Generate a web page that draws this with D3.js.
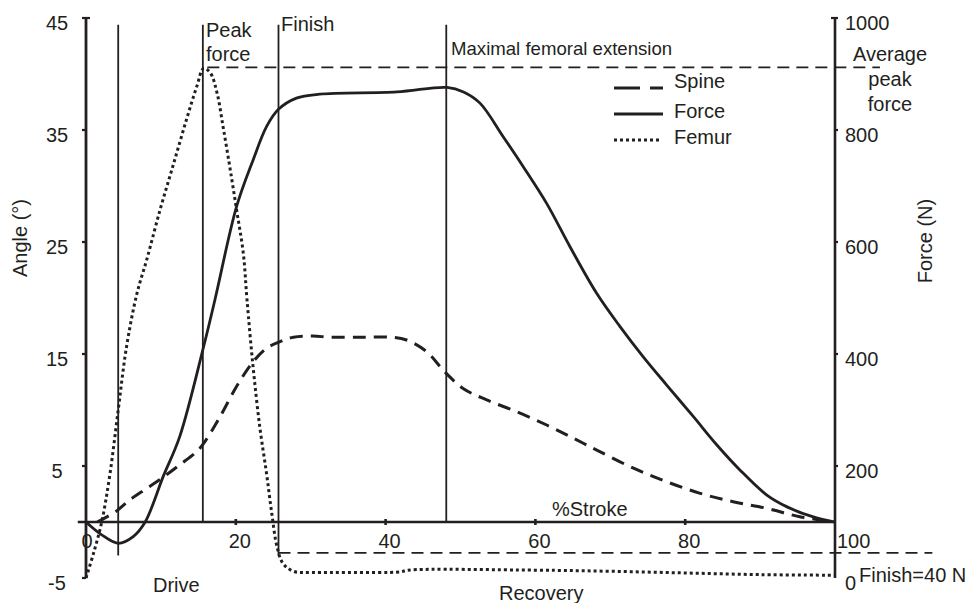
<!DOCTYPE html>
<html lang="en">
<head>
    <meta charset="UTF-8">
    <title>Stroke - angle and force</title>
    <script src="https://cdn.jsdelivr.net/npm/d3@7"></script>
    <style>
        html, body {
            margin: 0;
            background: #fff;
        }
        svg text {
            font-family: "Liberation Sans", Arial, Helvetica, sans-serif;
            fill: #231f20;
        }
    </style>
</head>
<body>
    <div id="vis"></div>

    <script>

        // data: % of stroke vs angle (deg) / force (N)
        var forcePct = [0, 2, 4.3, 6.3, 7.9, 10.3, 12.5, 15.7, 17.2, 20.1, 22.3, 24.1, 25.7, 28.1, 31.2,
            41.5, 48.2, 50.4, 52.6, 55.7, 58.4, 61.5, 64.6, 68.2, 71.3, 74.4, 77.5, 81.1, 84.2, 87.3,
            90.9, 93.6, 97.1, 100];
        var forceN = [100, 78, 62, 74, 100, 181, 252, 413, 496, 663, 746, 806, 837, 857, 864,
            868, 876, 868, 848, 788, 734, 669, 592, 508, 449, 395, 345, 288, 238, 193,
            148, 127, 109, 100];

        var spinePct = [1.5, 3.9, 5.9, 8.1, 10.3, 12.5, 14.8, 15.9, 17.9, 20.1, 22.3, 24.1, 25.9, 27.7,
            30.3, 32.6, 37.0, 40.6, 42.8, 45.5, 47.9, 50.4, 53.5, 57.5, 61.5, 65.1, 68.4, 73.1,
            77.5, 82.0, 86.4, 90.9, 95.3, 100];
        var spineDeg = [0, 0.9, 2.0, 3.0, 4.0, 5.1, 6.3, 7.2, 9.4, 12.1, 14.3, 15.5, 16.1, 16.5,
            16.6, 16.5, 16.5, 16.5, 16.25, 15.2, 13.4, 11.9, 10.9, 9.85, 8.66, 7.47, 6.35, 4.8,
            3.6, 2.56, 1.81, 1.22, 0.47, 0];

        var femurPct = [0, 1.0, 2.1, 3.2, 4.3, 5.4, 6.8, 8.1, 9.9, 11.7, 13.4, 14.8, 15.7, 16.6, 17.5,
            18.3, 19.2, 20.1, 21.0, 21.5, 22.3, 23.2, 24.1, 24.8, 25.5, 26.3, 27.7, 30.3, 35, 42,
            43, 60, 70, 80, 90, 100];
        var femurDeg = [-5, -2.8, 0, 4.3, 10, 15.6, 20.4, 23.4, 27.9, 32.0, 35.9, 38.9, 40.5, 40.1, 38.3,
            35.3, 31.7, 27.9, 24.0, 19.8, 13.9, 8.5, 4.35, 0.78, -2.2, -3.7, -4.4, -4.5, -4.5, -4.45,
            -4.3, -4.3, -4.4, -4.55, -4.7, -4.75];

        // phase markers (% stroke) and where each line stops (deg)
        var markerPct = [4.3, 15.6, 25.7, 48.1];
        var markerBottom = [-3.0, 0, -3.0, 0];
        var markerTop = 44.4;

        var averagePeakForce = 912;
        var finishForce = 45;

        var xTicks = [0, 20, 40, 60, 80, 100];
        var angleTicks = [-5, 5, 15, 25, 35, 45];
        var forceTicks = [0, 200, 400, 600, 800, 1000];

        var legendNames = ["Spine", "Force", "Femur"];

        /*
         *  DECLARATION BLOCK
         */
        var W = 971, H = 603;
        var ink = "#231f20";

        var svg = d3.select("#vis")
            .append("svg")
                .attr("width", W)
                .attr("height", H);

        var x = d3.scaleLinear().domain([0, 100]).range([86, 835]);
        var yA = d3.scaleLinear().domain([-5, 45]).range([578, 18]);
        var yF = d3.scaleLinear().domain([0, 1000]).range([578, 18]);

        // phase marker lines
        svg.selectAll(".marker")
            .data(markerPct)
            .enter()
            .append("line")
                .attr("class", "marker")
                .attr("x1", function(d) { return x(d); })
                .attr("x2", function(d) { return x(d); })
                .attr("y1", yA(markerTop))
                .attr("y2", function(d, i) { return yA(markerBottom[i]); })
                .attr("stroke", ink)
                .attr("stroke-width", 1.8);

        // average peak force + finish force reference lines
        svg.append("line")
            .attr("x1", x(16.2)).attr("x2", x(106))
            .attr("y1", yF(averagePeakForce)).attr("y2", yF(averagePeakForce))
            .attr("stroke", ink).attr("stroke-width", 1.8)
            .attr("stroke-dasharray", "12,7");

        svg.append("line")
            .attr("x1", x(25.7)).attr("x2", x(113))
            .attr("y1", yF(finishForce)).attr("y2", yF(finishForce))
            .attr("stroke", ink).attr("stroke-width", 1.8)
            .attr("stroke-dasharray", "12,7");

        // axes
        svg.append("line")
            .attr("x1", x(-1.1)).attr("x2", x(100))
            .attr("y1", yA(0)).attr("y2", yA(0))
            .attr("stroke", ink).attr("stroke-width", 2.6);

        svg.append("line")
            .attr("x1", x(0)).attr("x2", x(0))
            .attr("y1", yA(45)).attr("y2", yA(-5))
            .attr("stroke", ink).attr("stroke-width", 2.8);

        svg.append("line")
            .attr("x1", x(100)).attr("x2", x(100))
            .attr("y1", yF(1000)).attr("y2", yF(0))
            .attr("stroke", ink).attr("stroke-width", 2.6);

        // tick marks
        svg.selectAll(".xtick")
            .data(xTicks.slice(1, 5))
            .enter()
            .append("line")
                .attr("x1", function(d) { return x(d); })
                .attr("x2", function(d) { return x(d); })
                .attr("y1", yA(0) - 3).attr("y2", yA(0) + 3)
                .attr("stroke", ink).attr("stroke-width", 2.6);

        svg.selectAll(".atick")
            .data(angleTicks)
            .enter()
            .append("line")
                .attr("x1", x(0) - 4).attr("x2", function(d) { return d === 45 ? x(0) + 4 : x(0); })
                .attr("y1", function(d) { return yA(d); })
                .attr("y2", function(d) { return yA(d); })
                .attr("stroke", ink).attr("stroke-width", 2.2);

        svg.selectAll(".ftick")
            .data(forceTicks.slice(1))
            .enter()
            .append("line")
                .attr("x1", function(d) { return d === 1000 ? x(100) - 4 : x(100); })
                .attr("x2", x(100) + 3)
                .attr("y1", function(d) { return yF(d); })
                .attr("y2", function(d) { return yF(d); })
                .attr("stroke", ink).attr("stroke-width", 2.2);

        // tick labels
        svg.selectAll(".xlab")
            .data(xTicks)
            .enter()
            .append("text")
                .attr("x", function(d) { return x(d) + (d === 0 ? 1 : d === 100 ? 2 : 4); })
                .attr("y", yA(0) + 26)
                .attr("text-anchor", function(d) { return d === 100 ? "start" : "middle"; })
                .style("font-size", "20px")
                .text(function(d) { return d; });

        svg.selectAll(".alab")
            .data(angleTicks)
            .enter()
            .append("text")
                .attr("x", 57)
                .attr("y", function(d) { return yA(d) + 12; })
                .attr("text-anchor", "middle")
                .style("font-size", "20px")
                .text(function(d) { return d; });

        svg.selectAll(".flab")
            .data(forceTicks)
            .enter()
            .append("text")
                .attr("x", x(100) + 10)
                .attr("y", function(d) { return yF(d) + 12; })
                .style("font-size", "20px")
                .text(function(d) { return d; });

        // axis titles
        svg.append("text")
            .attr("transform", "translate(27,238) rotate(-90)")
            .attr("text-anchor", "middle")
            .style("font-size", "20px")
            .text("Angle (°)");

        svg.append("text")
            .attr("transform", "translate(932,241) rotate(-90)")
            .attr("text-anchor", "middle")
            .style("font-size", "20px")
            .text("Force (N)");

        // series
        var lineA = d3.line()
            .x(function(d) { return x(d[0]); })
            .y(function(d) { return yA(d[1]); })
            .curve(d3.curveCatmullRom.alpha(0.5));

        var lineF = d3.line()
            .x(function(d) { return x(d[0]); })
            .y(function(d) { return yF(d[1]); })
            .curve(d3.curveCatmullRom.alpha(0.5));

        svg.append("path")
            .datum(d3.zip(femurPct, femurDeg))
            .attr("d", lineA)
            .attr("fill", "none")
            .attr("stroke", ink)
            .attr("stroke-width", 3)
            .attr("stroke-dasharray", "3,3");

        svg.append("path")
            .datum(d3.zip(spinePct, spineDeg))
            .attr("d", lineA)
            .attr("fill", "none")
            .attr("stroke", ink)
            .attr("stroke-width", 3)
            .attr("stroke-dasharray", "13,8");

        svg.append("path")
            .datum(d3.zip(forcePct, forceN))
            .attr("d", lineF)
            .attr("fill", "none")
            .attr("stroke", ink)
            .attr("stroke-width", 2.8);

        // annotations
        function label(tx, ty, txt, size, anchor) {
            svg.append("text")
                .attr("x", tx).attr("y", ty)
                .attr("text-anchor", anchor || "start")
                .style("font-size", size + "px")
                .text(txt);
        }
        label(206, 37, "Peak", 20);
        label(206, 61, "force", 20);
        label(281, 31, "Finish", 20);
        label(451, 55, "Maximal femoral extension", 18.6);
        label(890, 61, "Average", 20, "middle");
        label(890, 86, "peak", 20, "middle");
        label(890, 111, "force", 20, "middle");
        label(552, 516, "%Stroke", 20);
        label(153, 592, "Drive", 20);
        label(499, 600, "Recovery", 20);
        label(859, 582, "Finish=40 N", 20);

        // legend
        var legendDash = ["26,10,13", null, "3,3"];
        var legend = svg.selectAll(".legend")
            .data(legendNames)
            .enter()
            .append("g")
                .attr("transform", function(d, i) { return "translate(614," + (88 + i * 26) + ")"; });

        legend.append("line")
            .attr("x1", 0)
            .attr("x2", function(d, i) { return i === 2 ? 46 : 49; })
            .attr("stroke", ink)
            .attr("stroke-width", 3)
            .attr("stroke-dasharray", function(d, i) { return legendDash[i]; });

        legend.append("text")
            .attr("x", 60)
            .attr("y", function(d, i) { return i === 0 ? 0 : 4; })
            .style("font-size", "20px")
            .text(function(d) { return d; });

    </script>
</body>
</html>
